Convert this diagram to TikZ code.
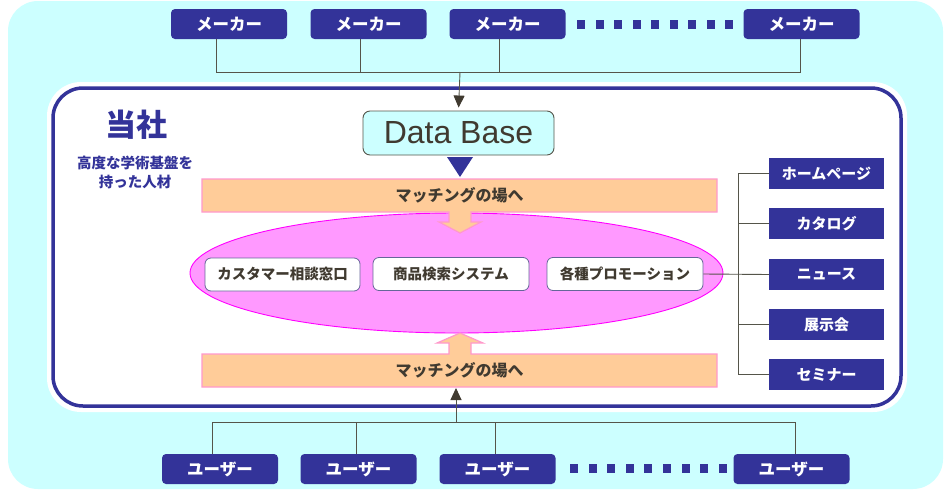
\documentclass[tikz,border=0pt]{standalone}
\usepackage{fontspec}
\setmainfont{Noto Sans CJK JP}
\newfontfamily\latfont{Liberation Sans}
\usetikzlibrary{calc,arrows.meta}
\definecolor{bgc}{HTML}{CCFFFF}
\definecolor{navy}{HTML}{333399}
\definecolor{orangef}{HTML}{FFCC99}
\definecolor{pinks}{HTML}{FF99CC}
\definecolor{ellf}{HTML}{FF99FF}
\definecolor{ells}{HTML}{FF00FF}
\definecolor{txtb}{HTML}{403A30}
\definecolor{linec}{HTML}{55554A}
\definecolor{svcs}{HTML}{666699}
\tikzset{
  navybox/.style={fill=navy, rounded corners=4, minimum width=116, minimum height=30, inner sep=0, text=white, font=\bfseries\fontsize{16.5}{16.5}\selectfont},
  mediabox/.style={fill=navy, minimum width=115, minimum height=31, inner sep=0, text=white, font=\bfseries\fontsize{15}{15}\selectfont},
  svcbox/.style={fill=white, draw=svcs, line width=0.8, rounded corners=6, minimum width=156, minimum height=33, inner sep=0, text=txtb, font=\bfseries\fontsize{14.5}{14.5}\selectfont},
  bartext/.style={text=txtb, inner sep=0, font=\bfseries\fontsize{16}{16}\selectfont},
  conn/.style={draw=linec, line width=0.9},
  arr/.style={-{Triangle[length=12,width=11,fill=txtb,color=txtb]}},
  barshape/.style={fill=orangef, draw=pinks, line width=1.2},
}
\begin{document}
\begin{tikzpicture}[x=1pt,y=-1pt]
\useasboundingbox (0,0) rectangle (948,490);
\fill[white] (0,0) rectangle (948,490);
\fill[bgc, rounded corners=30] (8,1) rectangle (943,489);
\fill[white, rounded corners=34] (47,82) rectangle (907,412);
\draw[navy, line width=3.5, rounded corners=30] (53,88) rectangle (901,406);

% makers
\node[navybox] (m1) at (229,24) {メーカー};
\node[navybox] (m2) at (368.5,24) {メーカー};
\node[navybox] (m3) at (507.5,24) {メーカー};
\node[navybox] (m4) at (801.5,24) {メーカー};
\foreach \i in {0,...,8} \fill[navy] ({577+18.5*\i},20) rectangle +(8,9);

% users
\node[navybox] (u1) at (220,469) {ユーザー};
\node[navybox] (u2) at (358.5,469) {ユーザー};
\node[navybox] (u3) at (497.5,469) {ユーザー};
\node[navybox] (u4) at (791.5,469) {ユーザー};
\foreach \i in {0,...,8} \fill[navy] ({570+18.6*\i},464) rectangle +(8,9);

% company label
\node[text=navy, inner sep=0, font=\bfseries\fontsize{31}{31}\selectfont] (co) at (136,125) {当社};
\node[text=navy, inner sep=0, align=center, font=\bfseries\fontsize{14.5}{19}\selectfont] (staff) at (135,172.5) {高度な学術基盤を\\持った人材};

% database
\node[fill=bgc, draw=linec, line width=0.9, rounded corners=7, minimum width=191, minimum height=44, inner sep=0, text=txtb, font=\latfont\fontsize{32}{32}\selectfont] (db) at (458.5,133) {Data Base};
\fill[navy] (447,157) -- (473,157) -- (460,177) -- cycle;

% ellipse
\draw[fill=ellf, draw=ells, line width=0.9] (456.5,273) ellipse [x radius=266.5, y radius=60];

% bars with block arrows
\path[barshape] (202,179) -- (717,179) -- (717,212) -- (471,212) -- (471,222) -- (481,222) -- (460,233) -- (439,222) -- (449,222) -- (449,212) -- (202,212) -- cycle;
\path[barshape] (202,387) -- (717,387) -- (717,354) -- (471,354) -- (471,343) -- (483,343) -- (460,333) -- (437,343) -- (449,343) -- (449,354) -- (202,354) -- cycle;
\node[bartext] (bt1) at (459.5,195.5) {マッチングの場へ};
\node[bartext] (bt2) at (459.5,370.5) {マッチングの場へ};
\coordinate (bbot) at (456,388);

% services
\node[svcbox, minimum width=155] (s1) at (282.5,274.5) {カスタマー相談窓口};
\node[svcbox] (s2) at (451,274) {商品検索システム};
\node[svcbox] (s3) at (625,274) {各種プロモーション};

% media
\node[mediabox] (r1) at (826.5,173.5) {ホームページ};
\node[mediabox] (r2) at (826.5,223.5) {カタログ};
\node[mediabox] (r3) at (826.5,274.5) {ニュース};
\node[mediabox] (r4) at (826.5,324.5) {展示会};
\node[mediabox] (r5) at (826.5,374.5) {セミナー};

% connectors top
\coordinate (jt) at (460,72);
\draw[conn] ([xshift=-13]m1.south) |- (jt);
\draw[conn] ([xshift=-8.5]m2.south) -- ++(0,33);
\draw[conn] ([xshift=-8.5]m3.south) -- ++(0,33);
\draw[conn] ([xshift=-1.5]m4.south) |- (jt);
\draw[conn, arr, shorten >=3] (jt) -- (db.north);

% connectors bottom
\coordinate (jb) at (456,422);
\draw[conn] ([xshift=-8]u1.north) |- (jb);
\draw[conn] ([xshift=-2.5]u2.north) -- ++(0,-32);
\draw[conn] ([xshift=-2.5]u3.north) -- ++(0,-32);
\draw[conn] ([xshift=3.5]u4.north) |- (jb);
\draw[conn, arr] (jb) -- (bbot);

% media connectors
\draw[conn] (r1.west) -- ++(-30,0) |- (r5.west);
\draw[conn] (r2.west) -- ++(-30,0);
\draw[conn] (r4.west) -- ++(-30,0);
\draw[conn] (s3.east) -- (r3.west);
\end{tikzpicture}
\end{document}
